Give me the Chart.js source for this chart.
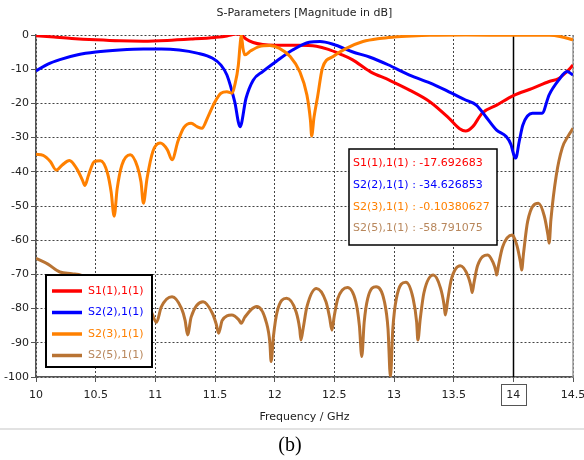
<!DOCTYPE html>
<html><head><meta charset="utf-8">
<script src="https://cdn.jsdelivr.net/npm/chart.js@4.4.0/dist/chart.umd.min.js"></script>
<style>html,body{margin:0;padding:0;background:#fff;}#wrap{width:584px;height:460px;}</style>
</head><body><div id="wrap"><canvas id="c" width="584" height="460"></canvas></div>
<script>
const titleText = 'S-Parameters [Magnitude in dB]';
const xTitle = 'Frequency / GHz';
const caption = '(b)';
const seriesLabels = ['S1(1),1(1)', 'S2(2),1(1)', 'S2(3),1(1)', 'S2(5),1(1)'];
const seriesColors = ['#ff0000', '#0000ff', '#ff8000', '#b87333'];
const textColors = ['#ff0000', '#0000ff', '#ff8000', '#b8875c'];
const markerFreq = 14;
const markerValues = ['-17.692683', '-34.626853', '-0.10380627', '-58.791075'];

const s11Freq = [10.00,10.15,10.30,10.50,10.70,10.90,11.10,11.30,11.50,11.60,11.68,11.72,11.76,11.82,11.90,12.00,12.20,12.35,12.45,12.55,12.65,12.80,12.96,13.13,13.30,13.46,13.55,13.60,13.66,13.74,13.86,14.00,14.16,14.30,14.38,14.44,14.50];
const s11dB   = [-0.2,-0.6,-1.0,-1.4,-1.7,-1.8,-1.6,-1.2,-0.7,-0.3,0.3,0.0,-1.2,-2.2,-2.8,-3.0,-3.0,-3.3,-4.2,-5.6,-7.2,-10.7,-13.2,-16.1,-19.5,-24.3,-27.4,-28.1,-26.8,-22.8,-20.5,-17.7,-15.6,-13.6,-12.7,-11.0,-8.8];

const s22Freq = [10.00,10.10,10.20,10.35,10.50,10.70,10.90,11.05,11.20,11.35,11.48,11.55,11.60,11.665,11.71,11.76,11.82,11.90,12.01,12.15,12.29,12.38,12.49,12.65,12.80,12.95,13.13,13.30,13.46,13.60,13.69,13.77,13.86,13.94,13.98,14.00,14.02,14.05,14.08,14.16,14.24,14.30,14.38,14.45,14.50];
const s22dB   = [-10.5,-8.5,-7.2,-5.8,-5.0,-4.4,-4.1,-4.1,-4.4,-5.3,-6.8,-8.8,-11.7,-19.5,-26.8,-18.5,-13.2,-10.7,-7.8,-4.4,-2.1,-1.9,-2.7,-4.9,-6.5,-8.7,-11.7,-14.0,-16.6,-19.0,-20.5,-23.9,-27.8,-29.7,-32.0,-34.6,-36.0,-31.0,-26.3,-22.9,-22.9,-17.5,-13.2,-10.7,-11.7];

const s23Freq = [10.00,10.06,10.12,10.17,10.22,10.28,10.34,10.39,10.41,10.44,10.49,10.54,10.60,10.63,10.655,10.68,10.72,10.79,10.85,10.88,10.90,10.93,10.98,11.04,11.10,11.14,11.19,11.24,11.30,11.35,11.39,11.44,11.50,11.55,11.60,11.64,11.67,11.695,11.71,11.72,11.735,11.75,11.80,11.87,11.96,12.04,12.13,12.21,12.27,12.30,12.31,12.33,12.36,12.40,12.49,12.60,12.74,12.88,13.00,13.15,13.30,13.60,14.00,14.30,14.40,14.50];
const s23dB   = [-34.9,-35.2,-37.0,-39.5,-38.0,-36.7,-39.0,-42.5,-44.0,-41.0,-37.0,-36.8,-40.5,-46.0,-53.0,-45.0,-38.0,-35.0,-38.5,-43.0,-49.2,-42.0,-34.0,-31.6,-33.5,-36.5,-31.0,-27.0,-25.8,-26.8,-27.3,-24.0,-19.5,-17.0,-16.6,-17.0,-14.0,-9.0,-3.0,0.0,-4.0,-5.8,-4.6,-3.4,-3.1,-3.9,-6.3,-10.7,-17.5,-25.0,-29.5,-24.0,-18.0,-9.7,-6.3,-3.9,-1.9,-1.0,-0.6,-0.3,-0.1,0.0,-0.1,-0.1,-0.5,-1.4];

const s25Freq = [10.00,10.10,10.20,10.30,10.38,10.50,10.62,10.70,10.80,10.90,10.96,11.01,11.05,11.14,11.22,11.25,11.27,11.30,11.40,11.48,11.51,11.53,11.56,11.64,11.70,11.72,11.75,11.85,11.93,11.96,11.97,11.99,12.02,12.10,12.18,12.21,12.22,12.24,12.27,12.35,12.43,12.46,12.48,12.50,12.53,12.61,12.68,12.71,12.73,12.75,12.78,12.85,12.92,12.95,12.97,12.99,13.02,13.10,13.16,13.19,13.20,13.22,13.25,13.33,13.39,13.42,13.43,13.45,13.48,13.555,13.62,13.645,13.655,13.67,13.70,13.785,13.83,13.855,13.86,13.875,13.91,13.99,14.00,14.03,14.06,14.07,14.085,14.12,14.21,14.26,14.29,14.30,14.315,14.36,14.41,14.46,14.50];
const s25dB   = [-65.3,-67.0,-69.3,-69.8,-70.3,-74.0,-80.0,-77.0,-76.5,-79.0,-80.5,-84.0,-79.5,-76.5,-80.0,-83.5,-87.7,-82.5,-78.0,-81.5,-84.5,-87.2,-83.5,-81.9,-83.3,-84.3,-82.5,-79.4,-84.0,-90.0,-95.5,-88.0,-81.0,-77.0,-81.0,-86.0,-89.2,-85.5,-79.5,-74.1,-78.0,-82.5,-86.3,-82.0,-77.0,-73.8,-78.0,-85.0,-94.0,-84.0,-77.0,-73.6,-78.0,-86.0,-100.0,-86.0,-77.0,-72.3,-77.0,-84.0,-89.2,-83.0,-75.5,-70.2,-74.0,-79.0,-81.9,-77.5,-71.5,-67.5,-70.5,-73.5,-75.3,-72.5,-67.5,-64.3,-66.5,-69.2,-70.2,-67.5,-62.0,-58.5,-58.8,-61.5,-66.5,-68.7,-64.0,-54.5,-49.2,-53.0,-58.5,-60.9,-54.0,-41.0,-33.0,-29.5,-27.3];

const FONT = '"DejaVu Sans", "Liberation Sans", sans-serif';
const pts = (fx, fy) => fx.map((f, i) => ({x: f, y: fy[i]}));
const freqs = [s11Freq, s22Freq, s23Freq, s25Freq];
const vals = [s11dB, s22dB, s23dB, s25dB];

const datasets = seriesLabels.map((lab, i) => ({
  label: lab,
  data: pts(freqs[i], vals[i]),
  borderColor: seriesColors[i],
  backgroundColor: seriesColors[i],
  borderWidth: 3,
  pointRadius: 0,
  cubicInterpolationMode: 'monotone',
  fill: false,
  order: 3 - i
}));

const deco = {
  id: 'deco',
  beforeDraw(chart) {
    const c = chart.ctx;
    c.save(); c.fillStyle = '#fff'; c.fillRect(0, 0, chart.width, chart.height); c.restore();
  },
  beforeDatasetsDraw(chart) {
    const c = chart.ctx, a = chart.chartArea, xs = chart.scales.x;
    c.save();
    c.strokeStyle = '#9a9a9a'; c.lineWidth = 1.5;
    c.beginPath(); c.moveTo(a.right, a.top); c.lineTo(a.right, a.bottom); c.stroke();
    const mx = Math.round(xs.getPixelForValue(markerFreq)) + 0.5;
    c.strokeStyle = '#000'; c.lineWidth = 1.5;
    c.beginPath(); c.moveTo(mx, a.top); c.lineTo(mx, a.bottom); c.stroke();
    c.restore();
  },
  afterDatasetsDraw(chart) {
    const c = chart.ctx;
    c.save();
    c.font = '11px ' + FONT;
    c.textBaseline = 'middle';
    const lx = 46, ly = 275, lw = 106, lh = 92;
    c.fillStyle = '#fff'; c.fillRect(lx, ly, lw, lh);
    c.strokeStyle = '#000'; c.lineWidth = 2; c.strokeRect(lx, ly, lw, lh);
    seriesLabels.forEach((lab, i) => {
      const y = 291 + i * 21.5;
      c.strokeStyle = seriesColors[i]; c.lineWidth = 3.5;
      c.beginPath(); c.moveTo(52, y); c.lineTo(82, y); c.stroke();
      c.fillStyle = textColors[i]; c.textAlign = 'left';
      c.fillText(lab, 88, y);
    });
    const bx = 349, by = 149, bw = 148, bh = 96;
    c.fillStyle = '#fff'; c.fillRect(bx, by, bw, bh);
    c.strokeStyle = '#000'; c.lineWidth = 1.5; c.strokeRect(bx, by, bw, bh);
    seriesLabels.forEach((lab, i) => {
      const y = 163.5 + i * 21.6;
      c.fillStyle = textColors[i]; c.textAlign = 'left';
      c.fillText(lab + ' : ' + markerValues[i], 353, y);
    });
    c.restore();
  },
  afterDraw(chart) {
    const c = chart.ctx, a = chart.chartArea, xs = chart.scales.x;
    c.save();
    c.fillStyle = '#222'; c.textAlign = 'center'; c.textBaseline = 'middle';
    c.font = '11px ' + FONT;
    c.fillText(titleText, (a.left + a.right) / 2, 13);
    c.fillText(xTitle, (a.left + a.right) / 2, 417);
    const mx = xs.getPixelForValue(markerFreq);
    c.strokeStyle = '#555'; c.lineWidth = 1;
    c.strokeRect(Math.round(mx - 12.5) + 0.5, 384.5, 25, 21);
    c.strokeStyle = '#e2e2e2'; c.lineWidth = 2;
    c.beginPath(); c.moveTo(0, 429); c.lineTo(chart.width, 429); c.stroke();
    c.fillStyle = '#000';
    c.font = '20px "Liberation Serif", "Times New Roman", serif';
    c.fillText(caption, 290, 446);
    c.restore();
  }
};

new Chart(document.getElementById('c'), {
  type: 'line',
  data: { datasets },
  options: {
    responsive: false,
    devicePixelRatio: 1,
    animation: false,
    events: [],
    layout: { padding: { left: 0, right: 11, top: 35, bottom: 0 } },
    plugins: { legend: { display: false }, title: { display: false }, tooltip: { enabled: false } },
    scales: {
      x: {
        type: 'linear', min: 10, max: 14.5,
        afterFit: s => { s.height = 83; s.paddingRight = 0; s.paddingLeft = 0; },
        ticks: { stepSize: 0.5, color: '#222', font: { family: FONT, size: 11 }, padding: 7, maxRotation: 0, autoSkip: false,
                 callback: v => String(Math.round(v * 10) / 10) },
        grid: { color: '#444', lineWidth: 1, tickLength: 5, tickColor: '#555', tickWidth: 1 },
        border: { display: true, color: '#555', width: 1.5, dash: [2, 2] }
      },
      y: {
        type: 'linear', min: -100, max: 0,
        afterFit: s => { s.width = 36; s.paddingTop = 0; s.paddingBottom = 0; },
        ticks: { stepSize: 10, color: '#222', font: { family: FONT, size: 11 }, padding: 2 },
        grid: { color: '#444', lineWidth: 1, tickLength: 5, tickColor: '#555', tickWidth: 1 },
        border: { display: true, color: '#555', width: 1.5, dash: [2, 2] }
      }
    }
  },
  plugins: [deco]
});
</script>
</body></html>
